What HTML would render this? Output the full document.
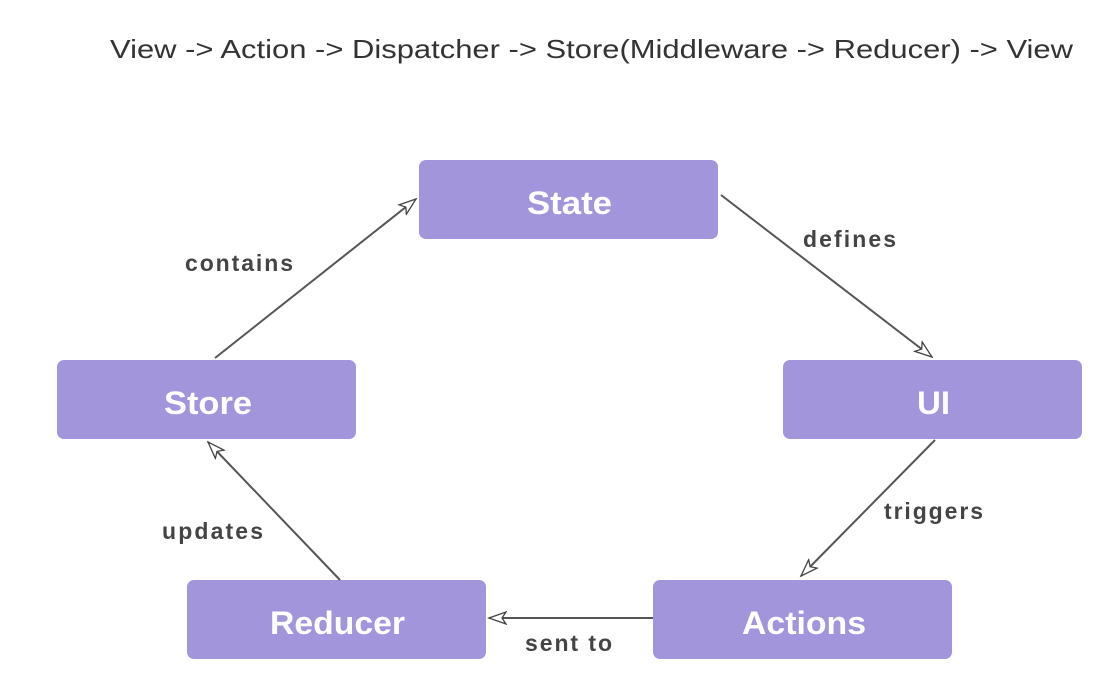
<!DOCTYPE html>
<html><head><style>
body{margin:0;background:#fff;}
svg{display:block}
</style></head><body>
<svg width="1118" height="692" viewBox="0 0 1118 692" xmlns="http://www.w3.org/2000/svg">
<defs>
<marker id="a" markerWidth="20" markerHeight="14" refX="18" refY="7" orient="auto" markerUnits="userSpaceOnUse">
<path d="M1,1 L18,7 L1,13 L5,7 Z" fill="#fff" stroke="#444" stroke-width="1.3"/>
</marker>
</defs>
<text x="110" y="58" font-family="Liberation Sans, sans-serif" font-size="26" fill="#333" textLength="963" lengthAdjust="spacingAndGlyphs">View -&gt; Action -&gt; Dispatcher -&gt; Store(Middleware -&gt; Reducer) -&gt; View</text>
<g fill="#a395db">
<rect x="419" y="160" width="299" height="79" rx="7"/>
<rect x="57" y="360" width="299" height="79" rx="7"/>
<rect x="783" y="360" width="299" height="79" rx="7"/>
<rect x="187" y="580" width="299" height="79" rx="7"/>
<rect x="653" y="580" width="299" height="79" rx="7"/>
</g>
<g font-family="Liberation Sans, sans-serif" font-size="32" font-weight="bold" fill="#fff">
<text x="527" y="214" textLength="85" lengthAdjust="spacingAndGlyphs">State</text>
<text x="164" y="414" textLength="88" lengthAdjust="spacingAndGlyphs">Store</text>
<text x="917" y="414" textLength="33" lengthAdjust="spacingAndGlyphs">UI</text>
<text x="270" y="634" textLength="135" lengthAdjust="spacingAndGlyphs">Reducer</text>
<text x="742" y="634" textLength="124" lengthAdjust="spacingAndGlyphs">Actions</text>
</g>
<g stroke="#555" stroke-width="2" fill="none" marker-end="url(#a)">
<line x1="215" y1="358" x2="416" y2="199"/>
<line x1="721" y1="195" x2="932" y2="357"/>
<line x1="935" y1="440" x2="801" y2="576"/>
<line x1="653" y1="618" x2="489" y2="618"/>
<line x1="340" y1="580" x2="208" y2="442"/>
</g>
<g font-family="Liberation Sans, sans-serif" font-size="23" font-weight="bold" fill="#444" lengthAdjust="spacingAndGlyphs">
<text x="185" y="271" textLength="108">contains</text>
<text x="803" y="247" textLength="93">defines</text>
<text x="884" y="519" textLength="99">triggers</text>
<text x="525" y="651" textLength="87">sent to</text>
<text x="162" y="539" textLength="101">updates</text>
</g>
</svg>
</body></html>
